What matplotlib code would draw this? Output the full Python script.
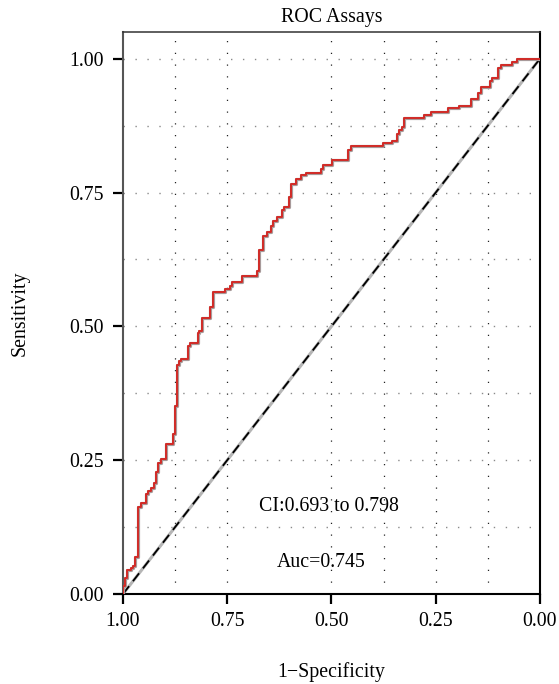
# ROC curve for the assay panel - step curve + chance diagonal + CI/AUC notes
# x axis runs 1 -> 0 (specificity shown reversed), same as pROC default plot

import numpy as np
import matplotlib
matplotlib.use("Agg")
import matplotlib.pyplot as plt

plt.rcParams["font.family"] = ["Liberation Serif", "DejaVu Serif"]

# corners of the staircase: specificity where the curve jumps, sensitivity after the jump
specificity = [
    1.000, 0.999, 0.995, 0.990, 0.980, 0.975, 0.970, 0.963, 0.957, 0.945,
    0.939, 0.934, 0.926, 0.922, 0.915, 0.910, 0.898, 0.879, 0.875, 0.871,
    0.865, 0.861, 0.843, 0.839, 0.821, 0.817, 0.811, 0.791, 0.785, 0.755,
    0.743, 0.739, 0.715, 0.678, 0.673, 0.664, 0.655, 0.645, 0.640, 0.631,
    0.619, 0.614, 0.603, 0.598, 0.585, 0.573, 0.561, 0.526, 0.520, 0.498,
    0.460, 0.454, 0.377, 0.355, 0.344, 0.337, 0.332, 0.325, 0.277, 0.261,
    0.221, 0.194, 0.166, 0.148, 0.142, 0.120, 0.114, 0.100, 0.094, 0.066,
    0.054, 0.000,
]
sensitivity = [
    0.000, 0.015, 0.030, 0.045, 0.049, 0.052, 0.069, 0.163, 0.170, 0.187,
    0.193, 0.198, 0.207, 0.228, 0.245, 0.252, 0.280, 0.299, 0.351, 0.428,
    0.436, 0.439, 0.464, 0.469, 0.488, 0.492, 0.516, 0.536, 0.564, 0.570,
    0.576, 0.582, 0.594, 0.604, 0.642, 0.669, 0.676, 0.688, 0.696, 0.705,
    0.718, 0.723, 0.741, 0.765, 0.776, 0.783, 0.787, 0.794, 0.801, 0.811,
    0.830, 0.836, 0.842, 0.847, 0.860, 0.866, 0.872, 0.889, 0.895, 0.900,
    0.907, 0.912, 0.925, 0.936, 0.948, 0.959, 0.964, 0.983, 0.989, 0.994,
    1.000, 1.000,
]

chance_x = [1.0, 0.0]
chance_y = [0.0, 1.0]

tick_values = [1.00, 0.75, 0.50, 0.25, 0.00]
h_grid = [0.125, 0.25, 0.375, 0.5, 0.625, 0.75, 0.875, 1.0]
v_grid = [0.875, 0.75, 0.5, 0.375, 0.25, 0.125]  # no line at 0.625 in the original

auc_text = "Auc=0.745"
ci_text = "CI:0.693 to 0.798"

FS = 14.3

fig = plt.figure(figsize=(5.59, 6.84), dpi=100)
ax = fig.add_axes([0.220, 0.1316, 0.746, 0.8217])

# dotted grid, horizontal ones grey, vertical ones darker
for y in h_grid:
    ax.axhline(y, color="#8a8a8a", lw=1.0, linestyle=(0, (1, 7.6)), zorder=1)
for x in v_grid:
    ax.axvline(x, color="#222222", lw=0.9, linestyle=(0, (1, 8.4)), zorder=1)

# chance line: grey solid underneath, black dashes on top
ax.plot(chance_x, chance_y, color="#b5b5b5", lw=2.2, zorder=2)
ax.plot(chance_x, chance_y, color="black", lw=1.3, linestyle=(0, (5.5, 3.5)), zorder=3)

# ROC staircase, faint shadow under the red
ax.step(specificity, sensitivity, where="post", color="#a89a9a", lw=2.3, zorder=4)
ax.step(specificity, sensitivity, where="post", color="#d22a26", lw=1.4, zorder=5)

ax.text(0.507, 0.164, ci_text, ha="center", va="center", fontsize=FS)
ax.text(0.524, 0.058, auc_text, ha="center", va="center", fontsize=FS)

ax.set_xlim(1.0, 0.0)
ax.set_ylim(0.0, 1.05)
ax.set_xticks(tick_values)
ax.set_yticks(tick_values)
ax.set_xticklabels([f"{v:.2f}" for v in tick_values])
ax.set_yticklabels([f"{v:.2f}" for v in tick_values])
ax.tick_params(axis="both", direction="out", length=7, width=1.6,
               labelsize=FS, colors="black", pad=6)
ax.tick_params(axis="y", pad=7)

ax.spines["left"].set_color("#555555")
ax.spines["left"].set_linewidth(1.5)
ax.spines["bottom"].set_color("black")
ax.spines["bottom"].set_linewidth(1.5)
ax.spines["top"].set_color("#333333")
ax.spines["top"].set_linewidth(1.1)
ax.spines["right"].set_color("black")
ax.spines["right"].set_linewidth(1.5)

ax.set_title("ROC Assays", fontsize=FS, pad=7)
ax.set_xlabel("1\u2212Specificity", fontsize=FS, va="top")
ax.xaxis.set_label_coords(0.5, -0.122)
ax.set_ylabel("Sensitivity", fontsize=FS)
ax.yaxis.set_label_coords(-0.225, 0.5)

fig.savefig("out.png", dpi=100, facecolor="white")
